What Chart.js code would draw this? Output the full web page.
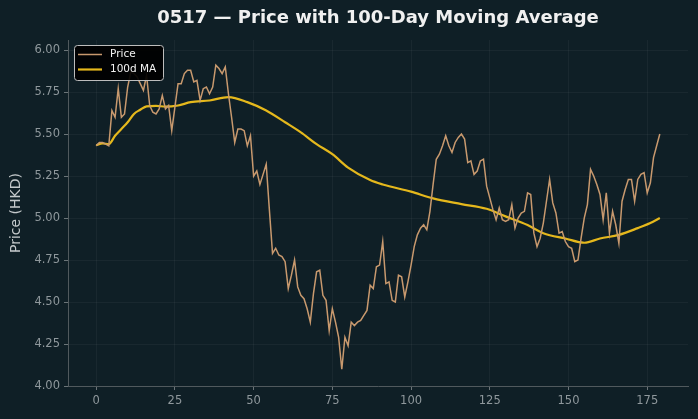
<!DOCTYPE html>
<html>
<head>
<meta charset="utf-8">
<script src="https://cdn.jsdelivr.net/npm/chart.js@4.4.1/dist/chart.umd.min.js"></script>
<style>
  html, body { margin: 0; padding: 0; background: #0f1f26; }
  #wrap { width: 698px; height: 419px; position: relative; }
</style>
</head>
<body>
<div id="wrap"><canvas id="c" width="698" height="419"></canvas></div>
<script>
const chartTitle = "0517 — Price with 100-Day Moving Average";
const yAxisTitle = "Price (HKD)";
const priceLabel = "Price";
const maLabel = "100d MA";

// Daily closing price, day index 0..179
const price = [
  5.43, 5.45, 5.45, 5.44, 5.43, 5.64, 5.60, 5.77, 5.60, 5.62,
  5.78, 5.87, 5.86, 5.84, 5.80, 5.76, 5.85, 5.67, 5.63, 5.62,
  5.65, 5.73, 5.65, 5.67, 5.52, 5.66, 5.80, 5.80, 5.86, 5.88,
  5.88, 5.81, 5.82, 5.70, 5.77, 5.78, 5.74, 5.78, 5.91, 5.89,
  5.86, 5.90, 5.74, 5.60, 5.45, 5.53, 5.53, 5.52, 5.43, 5.49,
  5.25, 5.28, 5.20, 5.26, 5.32, 5.05, 4.79, 4.82, 4.78, 4.77,
  4.74, 4.58, 4.66, 4.75, 4.59, 4.54, 4.52, 4.46, 4.38, 4.55,
  4.68, 4.69, 4.54, 4.51, 4.33, 4.46, 4.38, 4.29, 4.10, 4.29,
  4.24, 4.38, 4.36, 4.38, 4.39, 4.42, 4.45, 4.60, 4.58, 4.71,
  4.72, 4.86, 4.61, 4.62, 4.51, 4.50, 4.66, 4.65, 4.53, 4.62,
  4.72, 4.83, 4.90, 4.94, 4.96, 4.93, 5.04, 5.20, 5.35, 5.38,
  5.43, 5.49, 5.43, 5.39, 5.45, 5.48, 5.50, 5.47, 5.33, 5.34,
  5.26, 5.28, 5.34, 5.35, 5.19, 5.12, 5.05, 4.99, 5.06, 4.99,
  4.98, 4.99, 5.08, 4.94, 5.00, 5.03, 5.04, 5.15, 5.14, 4.91,
  4.83, 4.88, 4.97, 5.10, 5.23, 5.09, 5.03, 4.91, 4.92, 4.86,
  4.83, 4.82, 4.74, 4.75, 4.88, 5.00, 5.08, 5.29, 5.25, 5.20,
  5.14, 4.99, 5.15, 4.91, 5.04, 4.96, 4.85, 5.10, 5.17, 5.23,
  5.23, 5.10, 5.23, 5.26, 5.27, 5.15, 5.21, 5.36, 5.43, 5.50
];
const days = price.map((_, i) => i);

// 100-day moving average, read at selected days
const maDays = [0, 2, 4, 6, 8, 10, 12, 14, 16, 19, 22, 26, 30, 36, 42, 48, 54, 60, 65, 70,
                75, 80, 87, 91, 100, 107, 116, 124, 130, 137, 142, 149, 155, 160, 166, 172, 176, 179];
const maValues = [5.433, 5.445, 5.44, 5.49, 5.53, 5.57, 5.62, 5.645, 5.665, 5.668, 5.663, 5.67, 5.69, 5.70, 5.72, 5.69, 5.64, 5.57, 5.51, 5.44,
                  5.38, 5.30, 5.226, 5.20, 5.157, 5.117, 5.083, 5.055, 5.01, 4.958, 4.91, 4.878, 4.853, 4.878, 4.90, 4.94, 4.97, 5.00];

const xTicks = [0, 25, 50, 75, 100, 125, 150, 175];
const yTicks = [4.00, 4.25, 4.50, 4.75, 5.00, 5.25, 5.50, 5.75, 6.00];

const BG = '#0f1f26';
const PRICE_COLOR = '#c8996e';
const MA_COLOR = '#e5b81c';
const FONT = "'DejaVu Sans', sans-serif";

const bgPlugin = {
  id: 'bg',
  beforeDraw(chart) {
    const ctx = chart.ctx;
    ctx.save();
    ctx.fillStyle = BG;
    ctx.fillRect(0, 0, chart.width, chart.height);
    ctx.restore();
  }
};

const titlePlugin = {
  id: 'ttl',
  afterDraw(chart) {
    const ctx = chart.ctx, a = chart.chartArea;
    ctx.save();
    ctx.fillStyle = '#f0f0f0';
    ctx.font = "bold 18px " + FONT;
    ctx.textAlign = 'center';
    ctx.textBaseline = 'middle';
    ctx.fillText(chartTitle, (a.left + a.right) / 2, 18);
    ctx.restore();
  }
};

const legendPlugin = {
  id: 'lgd',
  afterDatasetsDraw(chart) {
    const ctx = chart.ctx, a = chart.chartArea;
    const x = a.left + 6, y = a.top + 5, w = 89, h = 35;
    ctx.save();
    ctx.fillStyle = 'rgba(0,0,0,0.92)';
    ctx.strokeStyle = '#bdbdbd';
    ctx.lineWidth = 1;
    ctx.beginPath();
    ctx.roundRect(x + 0.5, y + 0.5, w, h, 3);
    ctx.fill();
    ctx.stroke();
    ctx.font = "10.5px " + FONT;
    ctx.textBaseline = 'middle';
    chart.data.datasets.forEach((ds, i) => {
      const ly = y + 9.5 + i * 15;
      ctx.strokeStyle = ds.borderColor;
      ctx.lineWidth = ds.borderWidth;
      ctx.beginPath();
      ctx.moveTo(x + 4, ly);
      ctx.lineTo(x + 28, ly);
      ctx.stroke();
      ctx.fillStyle = '#f2f2f2';
      ctx.fillText(ds.label, x + 36, ly);
    });
    ctx.restore();
  }
};

new Chart(document.getElementById('c'), {
  type: 'line',
  data: {
    datasets: [
      {
        label: priceLabel,
        data: days.map((d, i) => ({ x: d, y: price[i] })),
        borderColor: PRICE_COLOR,
        borderWidth: 1.5,
        pointRadius: 0,
        tension: 0,
        fill: false
      },
      {
        label: maLabel,
        data: maDays.map((d, i) => ({ x: d, y: maValues[i] })),
        borderColor: MA_COLOR,
        borderWidth: 2.2,
        pointRadius: 0,
        cubicInterpolationMode: 'monotone',
        fill: false
      }
    ]
  },
  options: {
    responsive: false,
    animation: false,
    events: [],
    layout: { padding: { top: 40, right: 10, left: 8, bottom: 0 } },
    plugins: {
      legend: { display: false },
      title: { display: false },
      tooltip: { enabled: false }
    },
    scales: {
      x: {
        type: 'linear',
        min: -8.95,
        max: 187.95,
        afterFit(s) { s.height = 33; },
        afterBuildTicks(s) { s.ticks = xTicks.map(v => ({ value: v })); },
        ticks: {
          color: '#8f989c',
          font: { family: FONT, size: 11.5 },
          padding: 4,
          maxRotation: 0,
          callback: v => String(v)
        },
        grid: {
          color: 'rgba(255,255,255,0.045)',
          tickColor: '#6b7478',
          tickLength: 4,
          drawTicks: true
        },
        border: { color: '#50595d', width: 1 }
      },
      y: {
        min: 4.0,
        max: 6.06,
        afterFit(s) { s.width = 60; },
        afterBuildTicks(s) { s.ticks = yTicks.map(v => ({ value: v })); },
        ticks: {
          color: '#8f989c',
          font: { family: FONT, size: 11.5 },
          padding: 4,
          callback: v => Number(v).toFixed(2)
        },
        grid: {
          color: 'rgba(255,255,255,0.045)',
          tickColor: '#6b7478',
          tickLength: 4,
          drawTicks: true
        },
        border: { color: '#50595d', width: 1 },
        title: {
          display: true,
          text: yAxisTitle,
          color: '#c4c9cb',
          font: { family: FONT, size: 14 },
          padding: { top: 0, bottom: 4 }
        }
      }
    }
  },
  plugins: [bgPlugin, legendPlugin, titlePlugin]
});
</script>
</body>
</html>
